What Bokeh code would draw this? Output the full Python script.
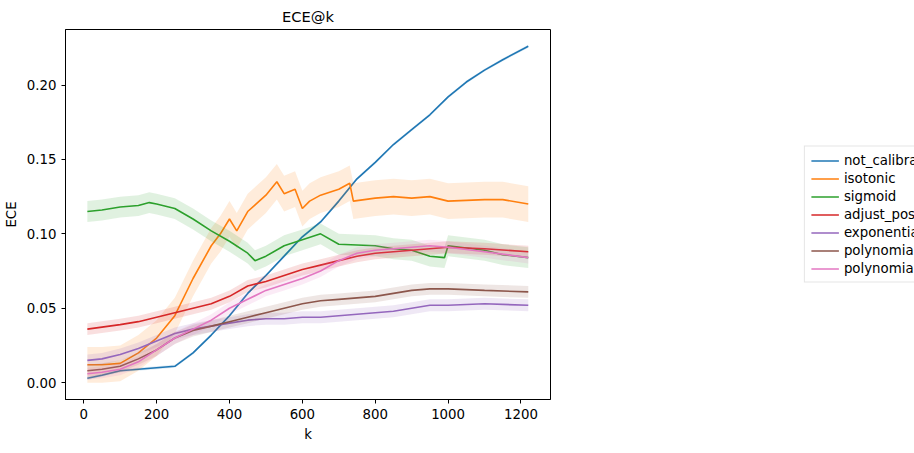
from bokeh.plotting import figure
from bokeh.models import Legend, LegendItem, Range1d, NumeralTickFormatter, ColumnDataSource
from bokeh.embed import file_html
from bokeh.resources import INLINE

k_common = [10, 50, 100, 150, 200, 250, 300, 350, 400, 450, 500, 550, 600, 650, 700,
            750, 800, 850, 900, 950, 1000, 1050, 1100, 1150, 1220]
not_calibrated = [0.003, 0.005, 0.008, 0.009, 0.010, 0.011, 0.020, 0.032, 0.045, 0.060, 0.072,
                  0.085, 0.098, 0.108, 0.122, 0.137, 0.148, 0.160, 0.170, 0.180, 0.192, 0.202,
                  0.210, 0.217, 0.226]

k_iso = [10, 50, 100, 150, 200, 250, 300, 350, 375, 400, 420, 450, 500, 530, 550, 580, 600,
         620, 650, 700, 730, 740, 800, 850, 900, 950, 1000, 1100, 1150, 1220]
isotonic = [0.012, 0.012, 0.013, 0.020, 0.030, 0.045, 0.070, 0.092, 0.100, 0.110, 0.102, 0.115,
            0.126, 0.135, 0.127, 0.130, 0.117, 0.122, 0.126, 0.130, 0.134, 0.122, 0.124, 0.125,
            0.124, 0.125, 0.122, 0.123, 0.123, 0.120]

k_sig = [10, 50, 100, 150, 180, 200, 250, 300, 350, 400, 450, 470, 500, 550, 600, 650, 700,
         800, 850, 900, 950, 990, 1000, 1100, 1150, 1220]
sigmoid = [0.115, 0.116, 0.118, 0.119, 0.121, 0.120, 0.117, 0.110, 0.102, 0.095, 0.087, 0.082,
           0.085, 0.092, 0.096, 0.100, 0.093, 0.092, 0.090, 0.089, 0.085, 0.084, 0.092, 0.089,
           0.086, 0.084]

k_b = [10, 100, 150, 200, 250, 300, 350, 400, 450, 500, 550, 600, 650, 700, 750, 800, 850,
       900, 950, 1000, 1100, 1220]
adjust = [0.036, 0.039, 0.041, 0.044, 0.047, 0.050, 0.053, 0.058, 0.065, 0.068, 0.072, 0.076,
          0.079, 0.082, 0.085, 0.087, 0.088, 0.089, 0.090, 0.091, 0.090, 0.088]

k_c = [10, 50, 100, 150, 200, 250, 300, 350, 400, 450, 500, 550, 600, 650, 700, 750, 800, 850,
       900, 950, 1000, 1100, 1220]
exponential = [0.015, 0.016, 0.019, 0.023, 0.028, 0.033, 0.036, 0.038, 0.040, 0.042, 0.043,
               0.043, 0.044, 0.044, 0.045, 0.046, 0.047, 0.048, 0.050, 0.052, 0.052, 0.053, 0.052]
polynomial_pos = [0.008, 0.009, 0.011, 0.016, 0.022, 0.030, 0.035, 0.038, 0.041, 0.044, 0.047,
                  0.050, 0.053, 0.055, 0.056, 0.057, 0.058, 0.060, 0.062, 0.063, 0.063, 0.062, 0.061]
polynomial_inc = [0.006, 0.007, 0.009, 0.014, 0.022, 0.030, 0.036, 0.042, 0.050, 0.056, 0.062,
                  0.066, 0.070, 0.075, 0.082, 0.087, 0.089, 0.090, 0.091, 0.092, 0.091, 0.088, 0.084]

names = ["not_calibrated", "isotonic", "sigmoid", "adjust_posterior_to_source_and_sigmoid",
         "exponential", "polynomial_pos", "polynomial_inc"]
colors = ["#1f77b4", "#ff7f0e", "#2ca02c", "#d62728", "#9467bd", "#8c564b", "#e377c2"]
spread = [0.001, 0.012, 0.007, 0.004, 0.004, 0.004, 0.004]

series = [(k_common, not_calibrated), (k_iso, isotonic), (k_sig, sigmoid), (k_b, adjust),
          (k_c, exponential), (k_c, polynomial_pos), (k_c, polynomial_inc)]

p = figure(frame_width=485, frame_height=370, title="ECE@k", x_axis_label="k", y_axis_label="ECE",
           output_backend="svg", toolbar_location=None, min_border_left=10,
           min_border_bottom=10, min_border_top=5, min_border_right=5)
p.x_range = Range1d(-50, 1281)
p.y_range = Range1d(-0.0113, 0.2373)

items = []
for (kx, ys), name, c, s in zip(series, names, colors, spread):
    src = ColumnDataSource(dict(k=kx, y=ys, lo=[v - s for v in ys], hi=[v + s for v in ys]))
    p.varea(x="k", y1="lo", y2="hi", source=src, fill_color=c, fill_alpha=0.15)
    r = p.line("k", "y", source=src, line_color=c, line_width=1.6)
    items.append(LegendItem(label=name, renderers=[r]))

legend = Legend(items=items, location="center", border_line_color="#cccccc",
                label_text_font="DejaVu Sans", label_text_font_size="10pt",
                label_text_color="black", label_height=14,
                glyph_width=28, glyph_height=14, spacing=3, padding=6, margin=18)
p.add_layout(legend, "right")

p.title.align = "center"
p.title.text_font = "DejaVu Sans"
p.title.text_font_style = "normal"
p.title.text_font_size = "11pt"
p.title.text_color = "black"
p.grid.visible = False
p.outline_line_color = "black"
p.yaxis.formatter = NumeralTickFormatter(format="0.00")
for ax in (p.xaxis, p.yaxis):
    ax.axis_label_text_font = "DejaVu Sans"
    ax.axis_label_text_font_style = "normal"
    ax.axis_label_text_font_size = "10pt"
    ax.axis_label_text_color = "black"
    ax.major_label_text_font = "DejaVu Sans"
    ax.major_label_text_font_size = "10pt"
    ax.major_label_text_color = "black"
    ax.minor_tick_line_color = None
    ax.major_tick_out = 4
    ax.major_tick_in = 0
p.xaxis.ticker = [0, 200, 400, 600, 800, 1000, 1200]
p.yaxis.ticker = [0.0, 0.05, 0.10, 0.15, 0.20]

open("out.html", "w").write(file_html(p, INLINE))
